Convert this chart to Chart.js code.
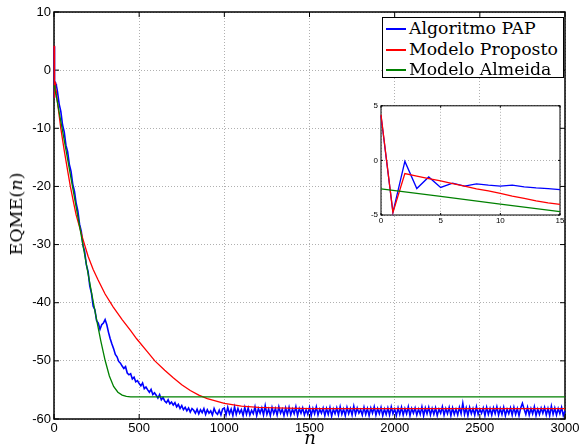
<!DOCTYPE html>
<html><head><meta charset="utf-8">
<script src="https://cdn.jsdelivr.net/npm/chart.js@4.4.0/dist/chart.umd.min.js"></script>
<style>
html,body{margin:0;padding:0;background:#fff;}
#wrap{position:relative;width:582px;height:446px;overflow:hidden;background:#fff;}
#main{position:absolute;left:0;top:0;}
#inset{position:absolute;left:366px;top:98px;}
.lbl{position:absolute;font-family:"DejaVu Serif",serif;color:#000;white-space:nowrap;}
#ytitle{left:16px;top:214px;font-size:17.5px;transform:translate(-50%,-50%) rotate(-90deg);}
#xtitle{left:310px;top:437px;font-size:18px;transform:translate(-50%,-50%);}
#legend{position:absolute;left:382px;top:17px;width:180px;height:59px;border:1px solid #000;background:#fff;}
.row{position:absolute;left:0;width:180px;height:21px;line-height:21px;font-family:"DejaVu Serif",serif;font-size:17.3px;color:#000;}
.sw{position:absolute;left:3px;top:10px;width:20px;height:2px;}
.tx{position:absolute;left:26px;top:0;white-space:nowrap;}
</style></head>
<body><div id="wrap">
<canvas id="main" width="582" height="446"></canvas>
<canvas id="inset" width="200" height="132"></canvas>
<div id="legend"></div>
<div class="lbl" id="ytitle">EQME(<i>n</i>)</div>
<div class="lbl" id="xtitle"><i>n</i></div>
</div>
<script>
// ---------- data ----------
const seriesNames = ["Algoritmo PAP", "Modelo Proposto", "Modelo Almeida"];
const seriesColors = ["#0000ff", "#ff0000", "#008000"];

const xTicks = [0, 500, 1000, 1500, 2000, 2500, 3000];
const yTicks = [-60, -50, -40, -30, -20, -10, 0, 10];
const insetXTicks = [0, 5, 10, 15];
const insetYTicks = [-5, 0, 5];

// first iterations (inset)
const insetN = [0,1,2,3,4,5,6,7,8,9,10,11,12,13,14,15];
const insetPAP = [4.09,-4.76,-0.09,-2.58,-1.52,-2.48,-2.09,-2.36,-2.15,-2.27,-2.36,-2.27,-2.42,-2.52,-2.58,-2.67];
const insetProposto = [4.18,-4.76,-1.21,-1.45,-1.67,-1.88,-2.12,-2.36,-2.6,-2.8,-3.03,-3.27,-3.48,-3.7,-3.88,-4.03];
const insetAlmeidaN = [0,5,10,15];
const insetAlmeida = [-2.6,-3.3,-4.0,-4.7];

// Algoritmo PAP, n = 20, 30, ..., 3000
const papStartN = 20, papStepN = 10;
const papMain = [
 -3.6,-5.8,-7.1,-9.4,-10.6,-12.9,-14.0,-16.2,
 -17.4,-19.6,-20.8,-22.9,-24.2,-26.5,-27.7,-30.1,-31.2,-33.5,
 -34.6,-37.1,-38.4,-40.6,-41.2,-43.1,-43.5,-44.6,-43.8,-43.5,
 -42.9,-43.8,-45.1,-46.2,-47.1,-47.9,-48.9,-49.3,-50.1,-50.4,
 -50.9,-51.3,-51.0,-52.1,-52.4,-52.2,-53.1,-52.8,-53.6,-53.4,
 -53.9,-54.3,-53.8,-54.8,-54.5,-55.0,-55.4,-54.9,-55.8,-55.5,
 -55.9,-56.4,-55.8,-56.7,-56.3,-56.9,-57.2,-56.7,-57.4,-57.1,
 -57.6,-57.2,-57.9,-57.5,-58.2,-57.7,-58.4,-58.0,-58.6,-58.1,
 -58.8,-58.2,-58.5,-59.0,-58.3,-59.1,-58.4,-58.9,-58.2,-59.2,
 -58.4,-59.0,-58.6,-59.3,-58.2,-58.9,-59.2,-58.5,-59.3,-58.3,
 -58.1,-59.3,-58.0,-59.1,-58.3,-59.4,-57.9,-59.2,-58.2,-59.0,
 -58.4,-59.4,-58.0,-59.2,-58.1,-59.3,-58.5,-59.1,-57.9,-59.4,
 -58.2,-59.0,-58.1,-59.3,-57.7,-59.2,-58.3,-59.4,-58.0,-59.1,
 -58.2,-59.3,-57.9,-59.0,-58.3,-59.4,-58.1,-59.2,-58.0,-59.3,
 -58.3,-59.1,-57.9,-59.4,-58.2,-59.0,-58.1,-59.3,-58.4,-59.2,
 -58.0,-59.4,-58.2,-59.1,-57.9,-59.3,-58.3,-59.0,-58.1,-59.4,
 -58.2,-59.2,-58.0,-59.5,-58.3,-59.1,-58.1,-59.3,-57.9,-59.2,
 -58.3,-59.4,-58.0,-59.1,-58.2,-59.3,-57.8,-59.2,-58.1,-59.0,
 -58.4,-59.3,-58.0,-59.2,-58.2,-59.4,-58.1,-59.0,-57.9,-59.3,
 -58.2,-59.1,-58.0,-59.4,-58.3,-59.2,-58.1,-59.3,-57.9,-59.1,
 -58.3,-59.4,-58.1,-59.2,-58.0,-59.3,-58.2,-59.1,-57.9,-59.4,
 -58.2,-59.0,-58.1,-59.3,-58.3,-59.2,-57.9,-59.4,-58.1,-59.1,
 -58.0,-59.3,-58.2,-59.2,-58.1,-59.4,-58.3,-59.0,-57.9,-59.3,
 -58.2,-59.1,-58.0,-59.4,-58.1,-59.2,-58.3,-59.3,-58.0,-59.1,
 -57.3,-59.2,-58.1,-59.4,-58.0,-59.1,-58.2,-59.3,-57.9,-59.2,
 -58.3,-59.0,-58.1,-59.4,-58.0,-59.2,-58.2,-59.3,-58.1,-59.1,
 -57.9,-59.3,-58.2,-59.2,-58.0,-59.4,-58.3,-59.1,-58.1,-59.3,
 -58.0,-59.2,-58.2,-59.4,-58.1,-57.3,-58.3,-59.2,-58.0,-59.3,
 -58.2,-59.1,-57.9,-59.4,-58.3,-59.2,-58.1,-59.0,-58.0,-59.3,
 -58.2,-59.4,-57.8,-59.2,-58.1,-59.3,-58.2,-59.1,-58.0,-59.4,
 -58.6
];

// Modelo Proposto after the first iterations
const propostoN = [40,60,80,96,115,130,150,171,200,230,259,300,347,400,450,485,550,592,650,700,750,800,850,900,1000,1100,1200,1300,1500,2000,3000];
const propostoY = [-10.0,-13.8,-17.3,-20.0,-22.8,-24.9,-27.0,-29.2,-32.0,-34.3,-36.1,-38.5,-40.7,-42.9,-44.8,-46.2,-48.5,-50.0,-51.6,-52.9,-54.1,-55.1,-55.9,-56.5,-57.3,-57.8,-58.0,-58.1,-58.2,-58.2,-58.2];

// Modelo Almeida
const almeidaN = [0,5,10,15,30,50,75,100,125,150,175,200,225,250,275,300,325,350,375,400,425,450,500,1000,2000,3000];
const almeidaY = [-2.6,-3.3,-4.0,-4.7,-7.2,-10.4,-14.5,-18.6,-22.7,-26.8,-30.9,-35.0,-39.0,-42.9,-46.6,-49.9,-52.6,-54.4,-55.4,-55.9,-56.1,-56.2,-56.2,-56.2,-56.2,-56.2];

// ---------- build ----------
const pts = (xs, ys) => xs.map((x, i) => ({x: x, y: ys[i]}));
const papPts = pts(insetN, insetPAP).concat(papMain.map((v, i) => ({x: papStartN + papStepN * i, y: v})));
const propPts = pts(insetN, insetProposto).concat(pts(propostoN, propostoY));
const almPts = pts(almeidaN, almeidaY);

// legend
const leg = document.getElementById('legend');
seriesNames.forEach((name, i) => {
  const r = document.createElement('div');
  r.className = 'row';
  r.style.top = Math.round(i * 20.7) + 'px';
  const sw = document.createElement('div');
  sw.className = 'sw'; sw.style.background = seriesColors[i];
  const tx = document.createElement('div');
  tx.className = 'tx'; tx.textContent = name;
  r.appendChild(sw); r.appendChild(tx); leg.appendChild(r);
});

const frame = {
  id: 'frame',
  beforeDraw(c, args, o) {
    if (!o.fill) return;
    const a = c.chartArea, ctx = c.ctx;
    ctx.save(); ctx.fillStyle = '#fff';
    ctx.fillRect(a.left, a.top, a.right - a.left, a.bottom - a.top);
    ctx.restore();
  },
  beforeDatasetsDraw(c, args, o) {
    const a = c.chartArea, ctx = c.ctx, xs = c.scales.x, ys = c.scales.y;
    ctx.save();
    ctx.strokeStyle = '#000';
    ctx.lineWidth = o.lw;
    ctx.beginPath();
    for (const t of xs.ticks) {
      const x = xs.getPixelForValue(t.value);
      ctx.moveTo(x, a.bottom); ctx.lineTo(x, a.bottom - o.tl);
      ctx.moveTo(x, a.top); ctx.lineTo(x, a.top + o.tl);
    }
    for (const t of ys.ticks) {
      const y = ys.getPixelForValue(t.value);
      ctx.moveTo(a.left, y); ctx.lineTo(a.left + o.tl, y);
      ctx.moveTo(a.right, y); ctx.lineTo(a.right - o.tl, y);
    }
    ctx.stroke();
    ctx.lineWidth = o.bw;
    ctx.strokeRect(a.left, a.top, a.right - a.left, a.bottom - a.top);
    ctx.restore();
  }
};

function axis(min, max, ticks, fontSize, pad, fit, isX) {
  return {
    type: 'linear', min: min, max: max,
    afterBuildTicks: s => { s.ticks = ticks.map(v => ({value: v})); },
    afterFit: s => { if (isX) s.height = fit; else s.width = fit; },
    ticks: {
      color: '#000', padding: pad, autoSkip: false, maxRotation: 0,
      font: {family: '"Liberation Sans", Arial, sans-serif', size: fontSize},
      callback: v => String(v)
    },
    grid: {color: '#b0b0b0', lineWidth: 1, drawTicks: false},
    border: {display: false, dash: [1, 2]}
  };
}

function ds(label, data, color, order, lw) {
  return {label: label, data: data, borderColor: color, backgroundColor: color,
    borderWidth: lw, pointRadius: 0, tension: 0, fill: false, order: order, clip: false};
}

Chart.defaults.animation = false;

new Chart(document.getElementById('main'), {
  type: 'line',
  data: {datasets: [
    ds(seriesNames[0], papPts, seriesColors[0], 3, 1.6),
    ds(seriesNames[1], propPts, seriesColors[1], 2, 1.3),
    ds(seriesNames[2], almPts, seriesColors[2], 1, 1.3)
  ]},
  options: {
    responsive: false, animation: false, parsing: true,
    layout: {padding: {left: 0, right: 17, top: 12, bottom: 0}},
    plugins: {legend: {display: false}, tooltip: {enabled: false}, frame: {lw: 1, tl: 5, bw: 1.5, fill: false}},
    scales: {
      x: axis(0, 3000, xTicks, 13, 2, 27, true),
      y: axis(-60, 10, yTicks, 13, 3, 54, false)
    }
  },
  plugins: [frame]
});

new Chart(document.getElementById('inset'), {
  type: 'line',
  data: {datasets: [
    ds(seriesNames[0], pts(insetN, insetPAP), seriesColors[0], 3, 1.3),
    ds(seriesNames[1], pts(insetN, insetProposto), seriesColors[1], 2, 1.3),
    ds(seriesNames[2], pts(insetAlmeidaN, insetAlmeida), seriesColors[2], 1, 1.3)
  ]},
  options: {
    responsive: false, animation: false,
    layout: {padding: {left: 0, right: 6, top: 7, bottom: 0}},
    plugins: {legend: {display: false}, tooltip: {enabled: false}, frame: {lw: 1, tl: 2, bw: 1, fill: true}},
    scales: {
      x: axis(0, 15, insetXTicks, 8, 1, 15, true),
      y: axis(-5, 5, insetYTicks, 8, 3, 15, false)
    }
  },
  plugins: [frame]
});
</script>
</body></html>
